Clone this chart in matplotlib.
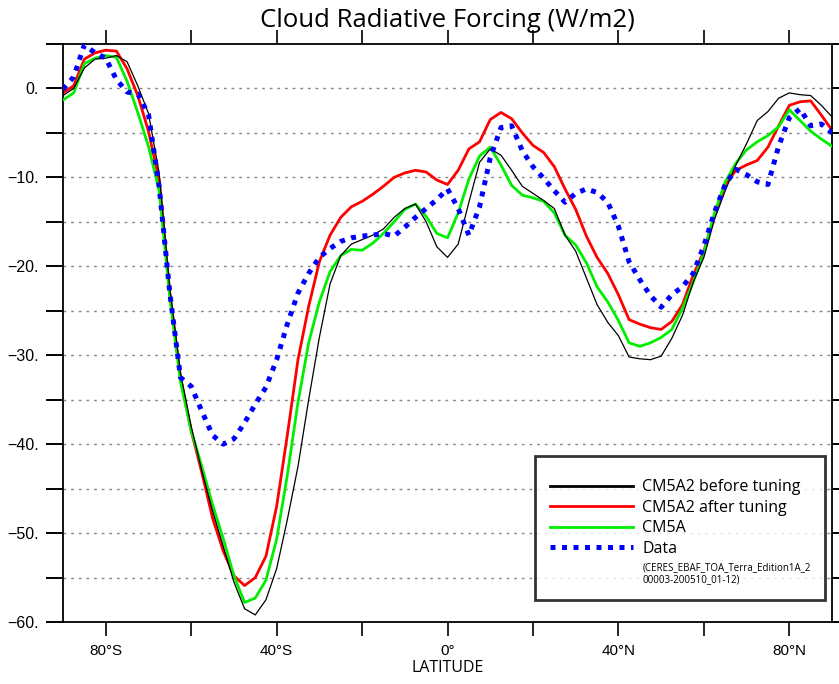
import numpy as np
import matplotlib
matplotlib.use("Agg")
from matplotlib import pyplot as plt
from matplotlib.lines import Line2D

# latitude grid (deg), 2.5 deg step from 90S to 90N
lat = np.arange(-90, 92.5, 2.5)

# CM5A2 before tuning
before = [-0.8, 0.0, 2.3, 3.3, 3.4, 3.7, 3.0, 0.3, -2.8, -9.5,
          -22.5, -32.0, -38.0, -43.0, -47.5, -51.5, -55.5, -58.5, -59.2, -57.5,
          -54.0, -48.5, -42.5, -35.0, -28.0, -22.0, -18.8, -17.5, -17.0, -16.5,
          -15.8, -14.5, -13.5, -13.0, -15.0, -17.8, -19.0, -17.5, -12.8, -8.3,
          -6.8, -7.5, -9.2, -11.0, -11.8, -12.6, -13.5, -16.5, -18.3, -21.3,
          -24.3, -26.3, -27.8, -30.2, -30.4, -30.5, -30.1, -28.1, -25.5, -21.8,
          -19.0, -14.7, -11.5, -8.6, -6.2, -3.6, -2.6, -1.1, -0.5, -0.7,
          -0.8, -1.9, -3.2]

# CM5A2 after tuning
after = [-0.5, 0.3, 3.3, 4.0, 4.3, 4.2, 2.2, -0.8, -4.8, -10.3,
         -23.0, -32.5, -38.5, -43.2, -48.3, -52.0, -54.8, -55.9, -55.0, -52.6,
         -47.0, -39.0, -30.5, -24.5, -19.5, -16.5, -14.5, -13.3, -12.7, -11.9,
         -11.0, -10.0, -9.5, -9.2, -9.4, -10.3, -10.8, -9.2, -6.8, -6.0,
         -3.5, -2.7, -3.4, -5.0, -6.4, -7.2, -8.8, -11.3, -13.6, -16.6,
         -19.0, -20.8, -23.2, -26.0, -26.5, -26.9, -27.1, -26.2, -24.3, -21.0,
         -18.3, -14.3, -10.8, -9.2, -8.6, -8.1, -6.6, -4.2, -1.9, -1.5,
         -1.4, -3.0, -4.7]

# CM5A
cm5a = [-1.3, -0.5, 2.8, 3.4, 3.7, 3.5, 0.8, -2.7, -6.5, -11.5,
        -23.5, -33.0, -38.5, -42.5, -46.8, -50.6, -54.8, -57.8, -57.3, -55.3,
        -50.7, -43.5, -35.3, -28.6, -24.0, -20.6, -18.8, -18.1, -18.2, -17.4,
        -16.3, -15.0, -13.6, -13.0, -14.4, -16.3, -16.8, -14.0, -10.2, -7.6,
        -6.6, -8.6, -10.9, -12.0, -12.3, -12.7, -14.0, -16.5, -17.6, -19.6,
        -22.3, -24.0, -26.1, -28.6, -29.0, -28.6, -28.0, -27.1, -24.7, -21.8,
        -18.5, -14.0, -10.5, -8.4, -6.9, -6.0, -5.3, -4.3, -2.4, -3.6,
        -4.8, -5.7, -6.5]

# CERES EBAF observations
data = [-0.1, 1.3, 4.9, 4.0, 3.4, 1.0, -0.4, -0.6, -2.9, -11.0,
        -23.0, -32.5, -33.5, -36.3, -39.0, -40.0, -39.4, -37.6, -35.5, -33.6,
        -30.5, -26.5, -23.0, -20.8, -19.0, -18.0, -17.2, -16.8, -16.6, -16.5,
        -16.3, -16.6, -15.6, -14.5, -13.5, -12.5, -11.3, -13.5, -16.5, -13.3,
        -7.8, -4.4, -4.2, -7.0, -8.8, -10.1, -11.5, -12.8, -11.8, -11.3,
        -11.7, -12.8, -15.5, -19.5, -21.5, -23.3, -24.6, -23.2, -22.3, -20.8,
        -17.7, -13.9, -10.8, -9.1, -9.7, -10.5, -10.8, -6.5, -3.3, -2.3,
        -4.2, -4.0, -5.0]

xticks = [-80, -60, -40, -20, 0, 20, 40, 60, 80]
xticklabels = ['80°S', '', '40°S', '', '0°', '', '40°N', '', '80°N']
yticks = np.arange(-60, 5.1, 5)

fig = plt.figure(figsize=(8.39, 6.84), dpi=100)
ax = fig.add_axes([0.0751, 0.0906, 0.9166, 0.8451])

ax.plot(lat, after, color='#ff0000', lw=2.0, zorder=2, label='CM5A2 after tuning')
ax.plot(lat, cm5a, color='#00ee00', lw=2.0, zorder=3, label='CM5A')
ax.plot(lat, before, color='black', lw=0.9, zorder=4, label='CM5A2 before tuning')
ax.plot(lat, data, color='#0000ff', lw=3.6, dashes=(1, 1.3), dash_capstyle='butt',
        zorder=5, label='Data')

ax.set_xlim(-90, 90)
ax.set_ylim(-60, 5)

# gridlines every 5 W/m2
for v in yticks:
    if -60 < v < 5:
        ax.axhline(v, color='#888888', lw=1.0, ls=(0, (2, 3.5)), zorder=1)

ax.set_yticks(yticks)
ax.set_yticklabels([('%d.' % v).replace('-', '\u2212') if v % 10 == 0 else '' for v in yticks],
                   family='Liberation Sans', fontsize=11.5)
ax.set_xticks(xticks)
ax.set_xticklabels(xticklabels, family='Liberation Sans', fontsize=11)
ax.tick_params(axis='y', direction='out', length=12.5, width=1.4, left=True, right=True, pad=5)
ax.tick_params(axis='x', direction='out', length=10, width=1.2, top=True, bottom=True, pad=6)
for s in ax.spines.values():
    s.set_linewidth(1.3)

ax.set_title('Cloud Radiative Forcing (W/m2)', family='Open Sans', fontsize=18.5, pad=12)
ax.set_xlabel('LATITUDE', family='Open Sans', fontsize=11.5, labelpad=1)

h = {l.get_label(): l for l in ax.get_lines()}
blank = Line2D([], [], color='none')
handles = [h['CM5A2 before tuning'], h['CM5A2 after tuning'], h['CM5A'], h['Data'], blank]
labels = ['CM5A2 before tuning', 'CM5A2 after tuning', 'CM5A', 'Data',
          '(CERES_EBAF_TOA_Terra_Edition1A_2\n00003-200510_01-12)']
leg = ax.legend(handles, labels, loc='upper left', bbox_to_anchor=(0.614, 0.287),
                borderaxespad=0, handlelength=5.2, handletextpad=0.6,
                labelspacing=0.29, borderpad=0.9, fancybox=False,
                title=' ', title_fontsize=2,
                prop={'family': 'Open Sans', 'size': 11.5})
leg.get_frame().set_edgecolor('black')
leg.get_frame().set_linewidth(2.0)
leg.get_texts()[4].set_fontsize(7)
leg.legend_handles[0].set_linewidth(2.0)

fig.savefig('out.png', dpi=100)
